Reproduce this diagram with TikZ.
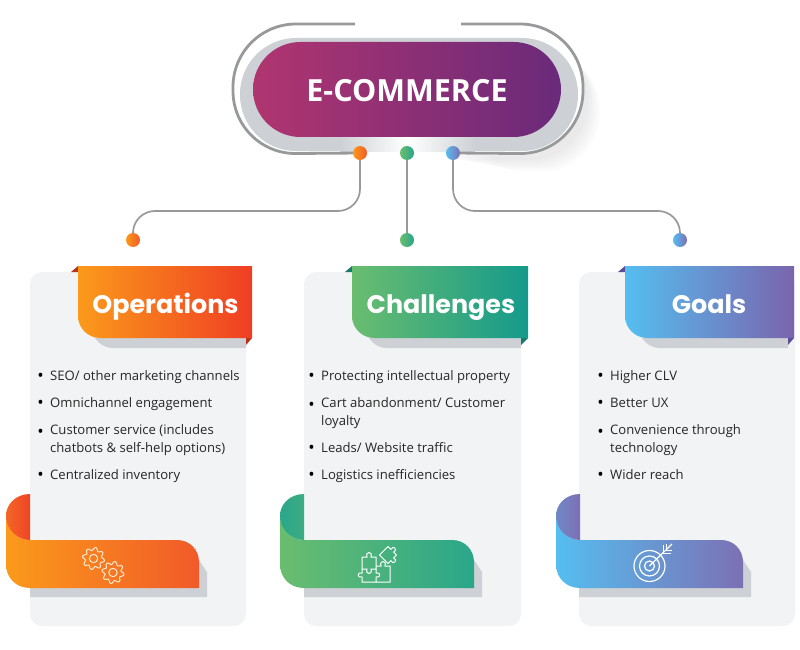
\documentclass[tikz,border=0pt]{standalone}
\usepackage{fontspec}
\setmainfont{Open Sans}
\newfontfamily\headfont{Poppins}
\usetikzlibrary{shapes.misc}
\definecolor{cardgray}{HTML}{F2F3F5}
\definecolor{foldgray}{HTML}{CDD1D5}
\definecolor{ringgray}{HTML}{97999B}
\definecolor{titleL}{HTML}{B03570}
\definecolor{titleR}{HTML}{6A2A7A}
\definecolor{opsL}{HTML}{FB9A1B}
\definecolor{opsR}{HTML}{EF3E23}
\definecolor{opsE}{HTML}{F15A29}
\definecolor{opsD}{HTML}{B8321C}
\definecolor{chaL}{HTML}{6ABD6F}
\definecolor{chaR}{HTML}{149A8C}
\definecolor{chaE}{HTML}{2AA68A}
\definecolor{chaD}{HTML}{177A6E}
\definecolor{goaL}{HTML}{55BEF0}
\definecolor{goaR}{HTML}{7A64AD}
\definecolor{goaE}{HTML}{7C70B4}
\definecolor{goaD}{HTML}{5B4E95}
\definecolor{iconcream}{HTML}{FDEBD0}
\tikzset{
	card/.style={fill=cardgray,rounded corners=12pt},
	ring/.style={draw=ringgray,line width=2.8pt},
	wire/.style={draw=ringgray,line width=1.7pt,rounded corners=22pt},
	dot/.style={circle,minimum size=14pt,inner sep=0pt},
	halo/.style={fill=black,opacity=0.012,rounded corners=58pt},
	heading/.style={anchor=base,text=white,inner sep=0pt,font=\headfont\fontsize{25.4}{28}\selectfont\bfseries},
	bulletmark/.style={anchor=north east,inner sep=0pt,xshift=-6pt,font=\fontsize{13.1}{18}\selectfont},
	item/.style={anchor=north west,inner sep=0pt,align=left,text=black!85,
		font=\fontsize{13.1}{18}\selectfont,execute at begin node=\strut,
		label={[bulletmark]north west:{\strut\raisebox{-1pt}{\fontsize{17}{18}\selectfont\textbullet}}}},
	icon/.style={draw=white,line width=1pt},
}
\begin{document}
\begin{tikzpicture}[x=1pt,y=-1pt]
	\useasboundingbox (0,0) rectangle (800,650);
	% title
	\fill [halo] (470,52) rectangle (600,172);
	\fill [halo] (460,50) rectangle (598,170);
	\fill [halo] (450,48) rectangle (596,168);
	\fill [halo] (440,46) rectangle (594,166);
	\fill [halo] (430,44) rectangle (592,164);
	\fill [halo] (420,42) rectangle (590,162);
	\fill [halo] (410,40) rectangle (588,160);
	\fill [white] (232,24) [rounded corners=62pt] rectangle (583,155);
	\fill [foldgray] (240,38) [rounded corners=56pt] rectangle (578,151);
	\shade [left color=foldgray,right color=foldgray,middle color=white] (340,137) rectangle (475,151.5);
	\node [rounded rectangle,minimum width=308pt,minimum height=95pt,inner sep=0pt,left color=titleL,right color=titleR] (title) at (407,89.5) {};
	\node [text=white,inner sep=0pt,font=\fontsize{30.5}{36}\selectfont\bfseries] (titleText) at (407,90.5) {E-COMMERCE};
	\node [dot,left color=opsL,right color=opsE] (opsTop) at (360,153) {};
	\node [dot,left color=chaL,right color=chaE] (chaTop) at (407,153) {};
	\node [dot,left color=goaL,right color=goaE] (goaTop) at (453,153) {};
	\node [dot,left color=opsL,right color=opsE] (opsEnd) at (133,240) {};
	\node [dot,left color=chaL,right color=chaE] (chaEnd) at (407,240) {};
	\node [dot,left color=goaL,right color=goaE] (goaEnd) at (680,240) {};
	\coordinate (ringLeft) at (355,24);
	\coordinate (ringRight) at (461,24);
	\coordinate (midline) at (0,211);
	\draw [ring,rounded corners=63pt] (ringLeft) -- (233,24) -- (233,154) -- (opsTop);
	\draw [ring,rounded corners=63pt] (ringRight) -- (583,24) -- (583,154) -- (goaTop);
	\draw [wire] (opsTop) -- (opsTop |- midline) -- (opsEnd |- midline) -- (opsEnd);
	\draw [wire] (chaTop) -- (chaEnd);
	\draw [wire] (goaTop) -- (goaTop |- midline) -- (goaEnd |- midline) -- (goaEnd);
	% operations
	\fill [card] (30,272) rectangle (246,626);
	\fill [foldgray] (95,338) -- (246,338) -- (246,348) -- (113,348) .. controls (105,348) and (99,344) .. (95,338);
	\fill [opsD] (78,266) -- (78,272) -- (71,272);
	\fill [opsD] (246,338) -- (252,338) -- (246,345);
	\shade [left color=opsL,right color=opsR] (78,266) -- (252,266) -- (252,338) -- (100,338) .. controls (88,338) and (78,328) .. (78,316) -- cycle;
	\node [heading] (opsHead) at (165.5,313) {Operations};
	\node [item] (ops1) at (50,368) {SEO/ other marketing channels};
	\node [item] (ops2) at (50,395) {Omnichannel engagement};
	\node [item] (ops3) at (50,424) {Customer service (includes\\chatbots \& self-help options)};
	\node [item] (ops4) at (50,467) {Centralized inventory};
	\fill [foldgray] (30,588) -- (199,588) -- (199,560) -- (207,572) -- (207,597) -- (30,597);
	\shade [left color=opsL,right color=opsE] (6,515) .. controls (6,530) and (18,540) .. (30,540) -- (177,540) .. controls (190,540) and (199,550) .. (199,562) -- (199,588) -- (30,588) .. controls (16,588) and (6,578) .. (6,564) -- cycle;
	\shade [left color=opsE!80!opsL,right color=opsR!80!opsE] (30,494) .. controls (16,494) and (6,504) .. (6,516) .. controls (6,530) and (18,540) .. (30,540) -- cycle;
	\draw [icon,draw=iconcream,shift={(93.5,558.5)}] plot [domain=0:360,samples=145] ({(9.6+1.5*sin(8*\x))*cos(\x)},{(9.6+1.5*sin(8*\x))*sin(\x)}) -- cycle (0:4.2) arc (0:360:4.2);
	\draw [icon,draw=iconcream,shift={(113,572.5)}] plot [domain=0:360,samples=145] ({(9.6+1.5*sin(8*\x))*cos(\x)},{(9.6+1.5*sin(8*\x))*sin(\x)}) -- cycle (0:4.2) arc (0:360:4.2);
	% challenges
	\fill [card] (304,272) rectangle (521,626);
	\fill [foldgray] (369,338) -- (521,338) -- (521,348) -- (387,348) .. controls (379,348) and (373,344) .. (369,338);
	\fill [chaD] (352,266) -- (352,272) -- (345,272);
	\fill [chaD] (521,338) -- (528,338) -- (521,345);
	\shade [left color=chaL,right color=chaR] (352,266) -- (528,266) -- (528,338) -- (374,338) .. controls (362,338) and (352,328) .. (352,316) -- cycle;
	\node [heading] (chaHead) at (441,313) {Challenges};
	\node [item] (cha1) at (321,368) {Protecting intellectual property};
	\node [item] (cha2) at (321,397) {Cart abandonment/ Customer\\loyalty};
	\node [item] (cha3) at (321,440) {Leads/ Website traffic};
	\node [item] (cha4) at (321,467) {Logistics inefficiencies};
	\fill [foldgray] (304,588) -- (474,588) -- (474,560) -- (482,572) -- (482,597) -- (304,597);
	\shade [left color=chaL,right color=chaE] (280,515) .. controls (280,530) and (292,540) .. (304,540) -- (452,540) .. controls (465,540) and (474,550) .. (474,562) -- (474,588) -- (304,588) .. controls (290,588) and (280,578) .. (280,564) -- cycle;
	\shade [left color=chaE,right color=chaE!70!chaL] (304,494) .. controls (290,494) and (280,504) .. (280,516) .. controls (280,530) and (292,540) .. (304,540) -- cycle;
	\draw [icon] (362,557) -- (367,557) .. controls (365,551) and (373,551) .. (371,557) -- (376,557) -- (376,569) -- (371,569) .. controls (373,575) and (365,575) .. (367,569) -- (362,569) -- cycle;
	\draw [icon] (362,569) -- (362,573) .. controls (357,571) and (357,579) .. (362,577) -- (362,582) -- (376,582) -- (376,577) .. controls (381,579) and (381,571) .. (376,573) -- (376,569);
	\draw [icon] (376,566) -- (381,566) .. controls (379,560) and (387,560) .. (385,566) -- (390,566) -- (390,582) -- (376,582);
	\draw [icon,rotate around={45:(388,555)}] (382,549) -- (394,549) -- (394,553) .. controls (399,551) and (399,559) .. (394,557) -- (394,561) -- (390,561) .. controls (392,566) and (384,566) .. (386,561) -- (382,561) -- cycle;
	% goals
	\fill [card] (579,272) rectangle (795,626);
	\fill [foldgray] (642,338) -- (788,338) -- (788,348) -- (660,348) .. controls (652,348) and (646,344) .. (642,338);
	\fill [goaD] (625,266) -- (625,272) -- (618,272);
	\fill [goaD] (788,338) -- (794,338) -- (788,345);
	\shade [left color=goaL,right color=goaR] (625,266) -- (794,266) -- (794,338) -- (647,338) .. controls (635,338) and (625,328) .. (625,316) -- cycle;
	\node [heading] (goaHead) at (709,313) {Goals};
	\node [item] (goa1) at (610,368) {Higher CLV};
	\node [item] (goa2) at (610,395) {Better UX};
	\node [item] (goa3) at (610,424) {Convenience through\\technology};
	\node [item] (goa4) at (610,467) {Wider reach};
	\fill [foldgray] (579,588) -- (743,588) -- (743,560) -- (751,572) -- (751,597) -- (579,597);
	\shade [left color=goaL,right color=goaE] (556,515) .. controls (556,530) and (568,540) .. (580,540) -- (721,540) .. controls (734,540) and (743,550) .. (743,562) -- (743,588) -- (580,588) .. controls (566,588) and (556,578) .. (556,564) -- cycle;
	\shade [left color=goaL!30!goaE,right color=goaE] (580,494) .. controls (566,494) and (556,504) .. (556,516) .. controls (556,530) and (568,540) .. (580,540) -- cycle;
	\draw [icon,line width=1.2pt] (649.5,566) circle (15.5) (649.5,566) circle (10) (649.5,566) circle (5) (649.5,566) -- (672,544);
	\draw [icon] (663,553) -- (663,545) (663,553) -- (671,553) (666,550) -- (666,544) (666,550) -- (672,550);
\end{tikzpicture}
\end{document}
